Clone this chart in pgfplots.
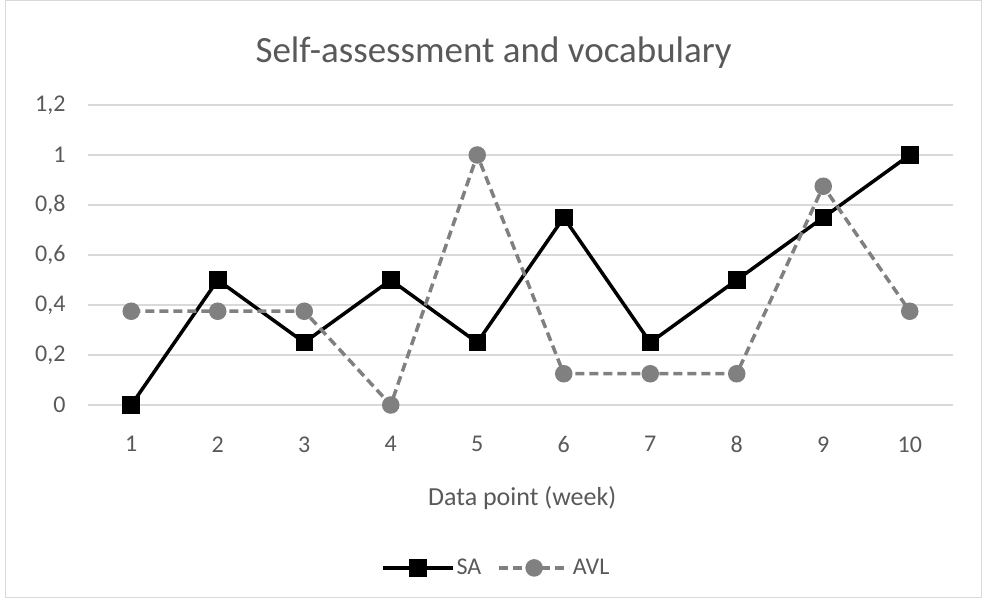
\documentclass[border=0pt]{standalone}
\usepackage{pgfplots}
\pgfplotsset{compat=1.18}
\usepackage{fontspec}
\setmainfont{Carlito}
\definecolor{txtc}{HTML}{595959}
\definecolor{gridc}{HTML}{D9D9D9}
\definecolor{avlc}{HTML}{808080}
\begin{document}
\begin{tikzpicture}
\path[use as bounding box] (0pt,0pt) rectangle (983pt,599pt);
\draw[gridc, line width=1pt] (5pt,1pt) rectangle (981pt,598pt);
\begin{axis}[
  at={(88pt,194pt)}, anchor=south west,
  scale only axis, width=865pt, height=300pt,
  xmin=0.5, xmax=10.5, ymin=0, ymax=1.2,
  xtick={1,...,10}, ytick={0,0.2,...,1.2},
  yticklabels={0,{0,2},{0,4},{0,6},{0,8},1,{1,2}},
  axis line style={draw=none},
  major tick style={draw=none},
  xmajorgrids=false, ymajorgrids=true, grid style={draw=gridc, line width=1.2pt},
  /pgf/number format/assume math mode=true,
  ticklabel style={font=\fontsize{24}{28}\selectfont, text=txtc},
  yticklabel style={xshift=-19pt},
  xticklabel style={yshift=-28pt},
  xlabel={Data point (week)},
  xlabel style={at={(axis description cs:0.502,-0.31)}, anchor=center, font=\fontsize{26}{30}\selectfont, text=txtc},
  title={Self-assessment and vocabulary},
  title style={at={(axis description cs:0.469,1.155)}, anchor=center, font=\fontsize{37}{42}\selectfont, text=txtc},
  legend style={at={(axis description cs:0.472,-0.543)}, anchor=center, draw=none, fill=none, legend columns=2, font=\fontsize{24}{28}\selectfont, text=txtc, /tikz/every even column/.append style={column sep=14pt}},
  legend image code/.code={\draw[mark repeat=2,mark phase=2,#1] plot coordinates {(0pt,0pt)(35pt,0pt)(70pt,0pt)};},
  clip=false,
]
\addplot[black, line width=3.5pt, mark=square*, mark size=7pt, mark options={solid}] coordinates {
(1,0) (2,0.5) (3,0.25) (4,0.5) (5,0.25) (6,0.75) (7,0.25) (8,0.5) (9,0.75) (10,1)};
\addlegendentry{SA}
\addplot[avlc, line width=3.5pt, dash pattern=on 9pt off 5pt, mark=*, mark size=7pt, mark options={solid, fill=avlc}] coordinates {
(1,0.375) (2,0.375) (3,0.375) (4,0) (5,1) (6,0.125) (7,0.125) (8,0.125) (9,0.875) (10,0.375)};
\addlegendentry{AVL}
\end{axis}
\end{tikzpicture}
\end{document}
